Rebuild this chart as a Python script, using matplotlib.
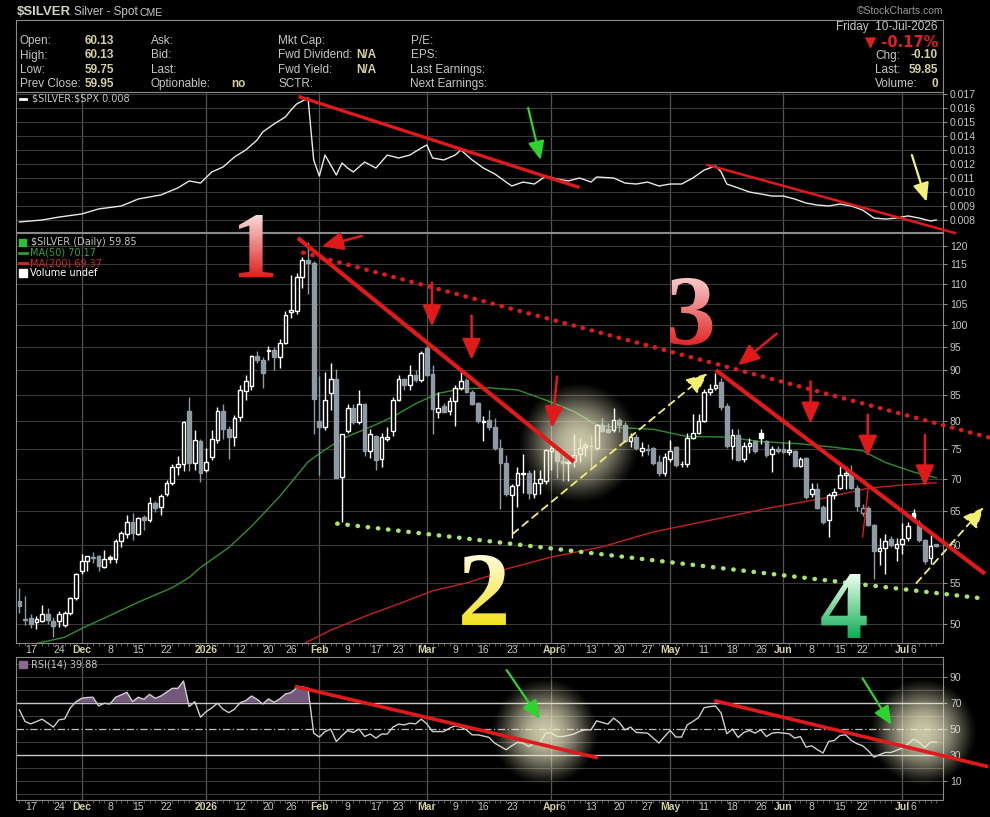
import numpy as np
import pandas as pd
import matplotlib
matplotlib.use('Agg')
import matplotlib.pyplot as plt
from matplotlib.patches import Rectangle, PathPatch
from matplotlib.textpath import TextPath
from matplotlib.font_manager import FontProperties
from matplotlib.transforms import Affine2D
from matplotlib.ticker import FixedLocator

plt.rcParams['font.family'] = ['Liberation Sans', 'DejaVu Sans']

# ---- trading calendar ----
holidays = ['2025-11-27', '2025-12-25', '2026-01-01', '2026-01-19', '2026-02-16',
            '2026-04-03', '2026-05-25', '2026-06-19', '2026-07-03']
dates = pd.bdate_range('2025-11-13', '2026-07-10', freq='C', holidays=holidays)

# ---- $SILVER daily candles ----
opens = [52.7, 50.6, 50.7, 50.3, 50.4, 51.2, 50.4, 50.4, 49.9, 51.3,
         53.1, 56.6, 57.9, 58.3, 58.5, 57.1, 58.4, 58.1, 60.6, 61.6,
         63.4, 61.6, 64.0, 63.6, 66.2, 65.6, 67.5, 69.3, 71.9, 72.4,
         81.9, 72.6, 76.4, 71.5, 73.6, 76.6, 81.9, 78.6, 77.2, 80.7,
         85.7, 86.7, 93.1, 92.1, 94.1, 94.3, 92.8, 95.9, 103.1, 103.3,
         111.8, 116.2, 115.4, 80.0, 78.9, 85.3, 88.2, 70.3, 78.2, 82.5,
         79.8, 83.3, 74.7, 77.3, 73.2, 76.8, 78.2, 84.0, 88.1, 86.9,
         89.0, 88.0, 94.8, 89.2, 81.8, 82.8, 81.9, 83.9, 86.4, 87.9,
         85.6, 83.4, 79.8, 80.2, 78.9, 75.1, 72.6, 67.4, 69.0, 70.8,
         70.9, 67.6, 69.3, 69.7, 74.6, 74.6, 72.9, 72.7, 72.9, 74.2,
         75.3, 75.5, 75.1, 79.3, 78.6, 78.3, 80.3, 79.2, 76.4, 77.2,
         74.6, 75.0, 75.2, 72.8, 71.0, 73.2, 75.3, 72.4, 72.4, 77.0,
         77.9, 80.1, 85.6, 86.3, 87.6, 82.8, 75.6, 77.4, 73.3, 75.5,
         76.4, 77.9, 76.4, 74.2, 75.0, 75.0, 74.4, 74.6, 72.1, 73.5,
         67.5, 68.4, 65.6, 63.6, 67.4, 68.5, 70.6, 70.7, 68.5, 64.6,
         65.4, 62.9, 59.2, 59.6, 60.9, 59.7, 60.2, 61.0, 64.6, 63.2,
         60.7, 58.3, 60.13]
highs = [54.4, 53.4, 51.2, 51.0, 52.3, 51.9, 50.8, 51.5, 51.6, 53.3,
         56.3, 58.8, 58.6, 59.1, 58.7, 59.3, 58.7, 60.9, 62.0, 64.3,
         64.6, 64.0, 64.4, 67.1, 66.5, 67.6, 69.8, 72.4, 73.8, 80.1,
         84.5, 78.4, 76.8, 75.1, 78.4, 82.6, 83.3, 79.1, 81.1, 86.9,
         89.0, 93.3, 94.0, 92.9, 95.1, 95.0, 96.7, 103.2, 112.2, 112.8,
         117.1, 121.0, 116.0, 88.9, 89.7, 91.6, 90.3, 77.7, 83.2, 83.2,
         85.9, 83.5, 78.6, 77.5, 77.9, 78.9, 84.6, 89.1, 88.3, 91.0,
         90.0, 94.1, 95.2, 91.0, 85.6, 83.5, 84.6, 86.9, 89.7, 88.3,
         86.0, 83.6, 81.0, 82.0, 80.5, 76.8, 73.9, 69.2, 72.0, 74.1,
         71.4, 71.4, 71.5, 75.0, 76.5, 75.2, 74.5, 74.2, 77.7, 76.9,
         76.2, 77.4, 79.5, 80.5, 79.6, 82.4, 80.5, 79.9, 77.8, 77.6,
         76.3, 75.9, 75.4, 73.9, 74.3, 76.5, 75.6, 73.0, 77.9, 81.4,
         81.3, 86.2, 87.2, 89.5, 88.5, 83.5, 78.6, 78.5, 76.2, 76.9,
         76.6, 78.5, 76.6, 75.6, 75.6, 76.3, 76.6, 74.9, 73.6, 73.6,
         69.3, 69.3, 65.9, 67.7, 68.6, 72.1, 72.1, 72.3, 69.0, 66.0,
         65.7, 63.1, 61.0, 61.6, 61.3, 61.1, 63.2, 63.3, 65.2, 63.6,
         60.9, 61.5, 60.13]
lows = [51.3, 49.9, 49.6, 49.4, 50.2, 50.0, 48.5, 49.7, 49.7, 51.1,
        52.9, 56.1, 56.6, 57.6, 56.6, 56.9, 57.6, 57.6, 59.8, 61.1,
        60.8, 61.5, 62.2, 63.4, 64.8, 64.4, 67.2, 69.0, 70.6, 71.2,
        71.2, 71.5, 69.5, 71.1, 73.1, 76.0, 76.8, 73.3, 75.5, 80.1,
        84.1, 86.0, 91.5, 86.3, 92.1, 90.0, 90.5, 95.6, 101.5, 102.5,
        109.0, 107.5, 77.6, 70.6, 78.4, 82.1, 70.1, 63.3, 77.8, 79.5,
        79.4, 73.8, 73.4, 71.4, 71.9, 76.4, 77.3, 83.8, 86.0, 86.0,
        87.6, 87.6, 88.9, 77.6, 80.6, 81.5, 81.1, 79.1, 86.0, 85.3,
        83.0, 79.7, 76.4, 78.4, 74.8, 65.2, 67.2, 61.0, 65.6, 67.8,
        66.8, 67.0, 67.6, 69.1, 71.4, 70.1, 69.6, 69.6, 71.9, 72.7,
        73.8, 71.9, 74.8, 78.0, 77.9, 78.0, 78.0, 76.2, 75.4, 74.8,
        73.8, 74.0, 72.2, 70.5, 70.5, 72.7, 72.0, 72.0, 72.0, 76.8,
        77.7, 79.9, 85.0, 86.0, 82.0, 75.2, 73.3, 72.9, 72.7, 74.3,
        74.3, 75.8, 73.7, 71.1, 74.3, 74.3, 74.0, 71.9, 71.9, 66.8,
        67.1, 65.2, 63.0, 61.2, 66.8, 68.4, 68.4, 68.3, 65.0, 64.2,
        62.7, 55.5, 57.3, 56.1, 59.8, 57.9, 58.8, 60.6, 63.4, 60.4,
        57.5, 57.4, 59.75]
closes = [52.1, 50.5, 50.0, 50.6, 51.2, 50.5, 49.8, 51.2, 51.3, 53.1,
          56.1, 57.9, 58.5, 58.4, 57.2, 58.1, 58.1, 60.6, 61.7, 63.4,
          61.7, 63.9, 63.6, 66.2, 65.4, 67.2, 69.4, 71.9, 72.4, 79.9,
          72.6, 76.5, 70.9, 72.7, 76.7, 81.9, 78.6, 77.1, 80.6, 85.9,
          87.7, 93.0, 92.1, 89.4, 94.4, 92.8, 95.9, 102.3, 103.4, 111.8,
          116.2, 115.4, 84.3, 78.9, 84.0, 88.1, 70.2, 77.6, 82.5, 79.8,
          83.3, 74.7, 77.6, 73.1, 77.2, 77.2, 84.0, 88.1, 86.9, 89.0,
          88.0, 93.6, 89.0, 82.2, 82.5, 81.8, 83.9, 86.4, 87.7, 85.6,
          83.3, 80.0, 80.1, 78.9, 75.1, 72.6, 67.6, 68.9, 70.9, 71.0,
          67.8, 69.3, 69.9, 74.9, 75.2, 72.9, 72.6, 72.6, 74.0, 75.1,
          75.7, 75.6, 79.3, 78.2, 78.0, 80.3, 79.3, 76.4, 77.2, 75.2,
          75.2, 74.8, 72.6, 71.0, 73.6, 74.7, 72.3, 72.5, 76.9, 77.9,
          80.1, 85.6, 86.2, 86.9, 82.7, 75.5, 77.4, 73.1, 75.5, 76.0,
          74.7, 76.9, 74.0, 75.0, 74.6, 74.5, 74.8, 72.1, 73.3, 67.1,
          68.4, 65.4, 63.3, 67.4, 67.9, 70.6, 71.0, 68.6, 65.7, 65.4,
          62.9, 59.2, 59.6, 60.6, 60.0, 60.2, 60.9, 62.8, 63.6, 60.7,
          57.9, 59.95, 59.85]

# moving averages (day index, value)
ma50_day = [3, 8, 11, 16, 21, 27, 30, 32, 37, 41, 46, 51, 53, 57, 62, 66, 70, 74,
            78, 83, 88, 93, 98, 102, 106, 112, 118, 125, 131, 138, 144, 149, 153, 158, 162]
ma50_val = [47.8, 48.5, 49.5, 51.0, 52.6, 54.4, 55.7, 57.0, 59.7, 62.7, 67.2, 72.8,
            74.2, 76.8, 78.9, 80.8, 83.3, 85.3, 86.2, 86.4, 86.0, 84.0, 81.8, 79.3,
            78.8, 78.5, 77.2, 77.1, 76.3, 75.9, 75.3, 74.7, 72.7, 71.1, 70.17]
ma200_day = [50, 55, 61, 67, 73, 79, 83, 86, 94, 103, 112, 118, 125, 133, 142, 150, 156, 162]
ma200_val = [47.7, 49.3, 50.9, 52.4, 54.0, 55.0, 55.9, 56.8, 58.4, 59.8, 61.9, 62.9,
             64.1, 65.5, 66.9, 68.5, 69.0, 69.37]

# RSI(14), one value per session
rsi = [64.5, 55.6, 53.8, 55.5, 57.4, 54.5, 51.3, 56.9, 57.6, 66.0,
       70.8, 73.4, 74.0, 74.2, 67.5, 69.6, 69.0, 74.2, 76.0, 78.0,
       70.8, 74.2, 72.6, 76.4, 73.4, 75.1, 78.0, 81.0, 81.0, 86.6,
       67.0, 70.8, 58.9, 63.2, 66.0, 69.6, 65.0, 62.4, 65.0, 70.0,
       71.6, 75.1, 72.6, 69.0, 72.9, 70.3, 72.9, 76.7, 77.7, 81.5,
       82.2, 81.0, 46.7, 43.7, 47.9, 49.8, 40.3, 44.7, 48.7, 47.2,
       49.8, 44.1, 46.0, 42.9, 46.0, 46.0, 51.3, 53.6, 53.0, 54.3,
       53.8, 57.4, 53.8, 47.9, 47.9, 47.9, 50.5, 52.3, 51.3, 49.2,
       45.4, 45.4, 44.5, 43.4, 39.0, 36.5, 34.0, 37.0, 39.6, 39.1,
       36.5, 39.1, 39.6, 47.0, 46.7, 44.1, 44.1, 45.0, 46.0, 48.2,
       49.2, 49.2, 56.1, 54.8, 53.6, 58.2, 54.8, 49.2, 51.3, 47.2,
       47.0, 46.7, 42.9, 39.1, 44.1, 48.7, 43.7, 43.7, 53.0, 55.6,
       58.6, 66.2, 67.0, 67.5, 62.0, 46.2, 49.8, 43.4, 47.2, 48.7,
       46.7, 49.2, 44.1, 46.7, 47.2, 46.7, 46.2, 42.9, 44.1, 36.0,
       37.0, 34.0, 31.5, 40.3, 41.1, 44.9, 45.4, 41.1, 38.6, 37.0,
       33.2, 28.4, 30.2, 31.9, 31.9, 33.5, 35.3, 38.5, 42.2, 39.6,
       35.8, 39.9, 39.88]

# $SILVER:$SPX ratio (day index, value)
ratio_day = [0, 4, 7, 11, 14, 18, 21, 25, 28, 30, 32, 34, 36, 38, 40, 42, 43, 45, 47, 48,
             49, 50, 51, 52, 53, 54, 55, 56, 57, 58, 59, 61, 63, 65, 67, 69, 71, 72, 73, 75,
             77, 78, 80, 82, 84, 86, 87, 89, 91, 93, 95, 97, 99, 101, 102, 105, 107, 109, 111, 113,
             115, 117, 119, 121, 123, 124, 125, 127, 129, 131, 133, 135, 137, 139, 141, 143, 145, 147, 149, 151,
             153, 155, 157, 159, 161, 162]
ratio_val = [0.00786, 0.00800, 0.00821, 0.00843, 0.00879, 0.00900, 0.00950, 0.00979, 0.01029, 0.01079,
             0.01064, 0.01143, 0.01179, 0.01250, 0.01300, 0.01371, 0.01429, 0.01486, 0.01536, 0.01586,
             0.01629, 0.01650, 0.01671, 0.01229, 0.01114, 0.01264, 0.01193, 0.01121, 0.01207, 0.01171,
             0.01143, 0.01214, 0.01171, 0.01264, 0.01243, 0.01264, 0.01314, 0.01336, 0.01243, 0.01229,
             0.01264, 0.01300, 0.01229, 0.01171, 0.01129, 0.01071, 0.01043, 0.01071, 0.01057, 0.01114,
             0.01093, 0.01079, 0.01100, 0.01071, 0.01107, 0.01100, 0.01064, 0.01057, 0.01071, 0.01043,
             0.01057, 0.01057, 0.01100, 0.01157, 0.01186, 0.01143, 0.01057, 0.01029, 0.01000, 0.00986,
             0.00971, 0.00971, 0.00950, 0.00921, 0.00907, 0.00900, 0.00914, 0.00900, 0.00871, 0.00814,
             0.00807, 0.00814, 0.00829, 0.00814, 0.00793, 0.00800]

# date axis labels
tick_dates = ['2025-11-17', '2025-11-24', '2025-12-01', '2025-12-08', '2025-12-15', '2025-12-22',
              '2026-01-02', '2026-01-12', '2026-01-20', '2026-01-26', '2026-02-02', '2026-02-09',
              '2026-02-17', '2026-02-23', '2026-03-02', '2026-03-09', '2026-03-16', '2026-03-23',
              '2026-04-01', '2026-04-06', '2026-04-13', '2026-04-20', '2026-04-27', '2026-05-01',
              '2026-05-11', '2026-05-18', '2026-05-26', '2026-06-01', '2026-06-08', '2026-06-15',
              '2026-06-22', '2026-07-01', '2026-07-06']
tick_text = ['17', '24', 'Dec', '8', '15', '22', '2026', '12', '20', '26', 'Feb', '9', '17', '23',
             'Mar', '9', '16', '23', 'Apr', '6', '13', '20', '27', 'May', '11', '18', '26', 'Jun',
             '8', '15', '22', 'Jul', '6']
month_starts = ['2025-12-01', '2026-01-02', '2026-02-02', '2026-03-02', '2026-04-01',
                '2026-05-01', '2026-06-01', '2026-07-01']

n = len(dates)
day = lambda d: dates.get_loc(pd.Timestamp(d))
tick_pos = [day(d) for d in tick_dates]
month_pos = [day(d) for d in month_starts]

# ---- figure layout (pixel based) ----
W, H = 990, 817
fig = plt.figure(figsize=(W / 100, H / 100), dpi=100, facecolor='black')
LEFT, RIGHT = 16, 943
GRID = '#3a3a3a'
VGRID = '#555555'
SPINE = '#8a8a8a'
LBL = '#c6c6c6'
KHAKI = '#d4d0a2'


def panel(top, bottom):
    ax = fig.add_axes([LEFT / W, 1 - bottom / H, (RIGHT - LEFT) / W, (bottom - top) / H])
    ax.set_facecolor('black')
    for s in ax.spines.values():
        s.set_color(SPINE)
    ax.set_xlim(-0.6, 163.2)
    ax.yaxis.tick_right()
    ax.tick_params(axis='y', colors=SPINE, labelcolor=LBL, labelsize=7.5, length=3, pad=2)
    ax.tick_params(axis='x', which='both', colors=SPINE)
    for m in month_pos:
        ax.axvline(m, color=VGRID, lw=0.9, zorder=1)
    return ax


def date_axis(ax):
    ax.set_xticks(tick_pos)
    ax.set_xticklabels(tick_text)
    ax.tick_params(axis='x', length=0, labelsize=7.5, pad=1.5, labelcolor=LBL)
    ax.xaxis.set_minor_locator(FixedLocator(range(n)))
    ax.tick_params(axis='x', which='minor', length=2, color='#6a6a6a')
    for t in ax.get_xticklabels():
        if not t.get_text().isdigit() or t.get_text() == '2026':
            t.set_fontweight('bold')
            t.set_color(KHAKI)


def T(x, y, s, ha='left', size=8.5, color=LBL, weight='normal', **kw):
    fig.text(x / W, 1 - y / H, s, ha=ha, va='center', fontsize=size, color=color,
             fontweight=weight, **kw)


# header box
hdr = fig.add_axes([LEFT / W, 1 - 92 / H, (RIGHT - LEFT) / W, 72 / H])
hdr.set_facecolor('black')
hdr.set_xticks([])
hdr.set_yticks([])
for s in hdr.spines.values():
    s.set_color(SPINE)

ax_top = panel(92, 232)
ax_px = panel(233, 643)
ax_rsi = panel(657, 800)

# ---- ratio panel ----
ax_top.set_ylim(0.007143, 0.017143)
ax_top.set_yticks(np.arange(0.008, 0.0171, 0.001))
ax_top.set_yticklabels([f'{v:.3f}' for v in np.arange(0.008, 0.0171, 0.001)])
ax_top.grid(axis='y', color=GRID, lw=0.8)
ax_top.set_xticks([])
ax_top.tick_params(axis='x', which='minor', length=0)
ax_top.plot(ratio_day, ratio_val, color='#e8e8e8', lw=1.0, zorder=3)

# ---- price panel ----
ax_px.set_yscale('log')
ax_px.set_ylim(47.86, 123.67)
pticks = list(range(50, 121, 5))
ax_px.yaxis.set_major_locator(FixedLocator(pticks))
ax_px.yaxis.set_minor_locator(FixedLocator([]))
ax_px.set_yticklabels([str(v) for v in pticks])
ax_px.grid(axis='y', color=GRID, lw=0.8)
date_axis(ax_px)

UP, DOWN = '#ffffff', '#8e9aa4'
for i in range(n):
    prev = closes[i - 1] if i else opens[i]
    col = UP if closes[i] >= prev else DOWN
    ax_px.vlines(i, lows[i], highs[i], color=col, lw=1.0, zorder=3)
    lo, hi = sorted((opens[i], closes[i]))
    hollow = closes[i] >= opens[i]
    ax_px.add_patch(Rectangle((i - 0.33, lo), 0.66, max(hi - lo, 0.06),
                              facecolor='black' if hollow else col, edgecolor=col,
                              lw=1.0, zorder=4))

ax_px.plot(ma50_day, ma50_val, color='#2f8f2f', lw=1.0, zorder=2)
ax_px.plot(ma200_day, ma200_val, color='#c42222', lw=1.0, zorder=2)

# ---- RSI panel ----
ax_rsi.set_ylim(-4.5, 105)
ax_rsi.set_yticks([10, 30, 50, 70, 90])
for lv in range(0, 101, 10):
    if lv not in (30, 50, 70):
        ax_rsi.axhline(lv, color=GRID, lw=0.8, zorder=1)
ax_rsi.axhline(70, color='#c8c8c8', lw=1.0, zorder=2)
ax_rsi.axhline(30, color='#c8c8c8', lw=1.0, zorder=2)
ax_rsi.axhline(50, color='#bdbdbd', lw=0.9, ls=(0, (6, 2, 1, 2)), zorder=2)
rsi_a = np.array(rsi)
xs = np.arange(n)
ax_rsi.fill_between(xs, 70, rsi_a, where=rsi_a > 70, interpolate=True, color='#74597c', lw=0, zorder=2)
ax_rsi.fill_between(xs, 30, rsi_a, where=rsi_a < 30, interpolate=True, color='#74597c', lw=0, zorder=2)
ax_rsi.plot(xs, rsi_a, color='#cfcfcf', lw=1.0, zorder=3)
date_axis(ax_rsi)

# ---- overlay for hand-drawn markup ----
ov = fig.add_axes([0, 0, 1, 1], zorder=10)
ov.set_axis_off()
ov.patch.set_alpha(0)


def glow(ax, xd, yd, r):
    px, py = ax.transData.transform((xd, yd))
    cy = H - py
    g = np.linspace(-1, 1, 181)
    d = np.hypot(*np.meshgrid(g, g))
    img = np.zeros((181, 181, 4))
    img[..., :3] = (0.93, 0.92, 0.78)
    img[..., 3] = np.clip(1 - d ** 2, 0, 1) ** 1.5 * 0.85
    ov.imshow(img, extent=(px - r, px + r, cy + r, cy - r), interpolation='bilinear', zorder=1)


def seg(ax, p0, p1, **kw):
    ov.plot([p0[0], p1[0]], [p0[1], p1[1]], transform=ax.transData, zorder=4, **kw)


def arrow(ax, p0, p1, color, lw=1.6, scale=16, ls='-'):
    ov.annotate('', xy=p1, xycoords=ax.transData, xytext=p0, textcoords=ax.transData,
                arrowprops=dict(arrowstyle='-|>,head_length=0.8,head_width=0.35', color=color,
                                lw=lw, mutation_scale=scale, linestyle=ls,
                                shrinkA=0, shrinkB=0), zorder=5)


def numeral(s, cx, bottom, height, c_top, c_bot):
    tp = TextPath((0, 0), s, size=100, prop=FontProperties(family='Liberation Serif', weight='bold'))
    bb = tp.get_extents()
    k = height / bb.height
    tr = Affine2D().translate(-(bb.x0 + bb.x1) / 2, -bb.y0).scale(k, -k).translate(cx, bottom)
    patch = PathPatch(tr.transform_path(tp), fc='none', ec='none', transform=ov.transData)
    ov.add_patch(patch)
    w = bb.width * k
    t = np.linspace(0, 1, 200)[:, None, None]
    img = (1 - t) * np.array(c_top) + t * np.array(c_bot)
    im = ov.imshow(img, extent=(cx - w / 2, cx + w / 2, bottom, bottom - height),
                   aspect='auto', interpolation='bilinear', zorder=6)
    im.set_clip_path(patch)


RED = '#e01a1a'
# glows
glow(ax_px, 98.9, 76.05, 62)
glow(ax_rsi, 92.9, 47.7, 55)
glow(ax_rsi, 159.6, 47.7, 55)

# ratio panel markup
seg(ax_top, (49.6, 0.016786), (98.7, 0.010357), color=RED, lw=2.4, clip_on=False)
seg(ax_top, (121.6, 0.011929), (165.3, 0.007071), color=RED, lw=1.8, clip_on=False)
arrow(ax_top, (89.9, 0.016), (92.1, 0.012286), '#2ed42e', lw=1.6, scale=14)
arrow(ax_top, (157.7, 0.012643), (160.3, 0.009307), '#f2f07a', lw=1.6, scale=14)

# price panel markup
seg(ax_px, (50.15, 118.17), (171.5, 76.98), color=RED, lw=3.2, ls=(0, (0.1, 2.0)),
    dash_capstyle='round', clip_on=False)
seg(ax_px, (56.16, 63.10), (169.4, 53.13), color='#a6e46e', lw=3.2, ls=(0, (0.1, 2.2)),
    dash_capstyle='round', clip_on=False)
seg(ax_px, (49.21, 122.25), (98.0, 72.83), color=RED, lw=3.0, solid_capstyle='butt', clip_on=False)
seg(ax_px, (123.07, 90.03), (170.6, 56.19), color=RED, lw=3.0, solid_capstyle='butt', clip_on=False)
seg(ax_px, (150.0, 68.68), (149.0, 61.19), color=RED, lw=1.0, clip_on=False)
arrow(ax_px, (87.15, 61.61), (121.6, 89.37), '#f4f070', lw=1.3, scale=16, ls=(0, (4, 3)))
arrow(ax_px, (158.5, 54.98), (170.4, 65.54), '#f4f070', lw=1.3, scale=16, ls=(0, (4, 3)))
for p0, p1 in [((60.5, 122.85), (53.46, 119.86)), ((72.9, 110.25), (72.9, 99.61)),
               ((79.9, 102.16), (79.9, 92.19)), ((95.0, 88.7), (94.1, 78.8)),
               ((133.8, 97.95), (127.0, 91.04)), ((139.8, 87.71), (139.8, 79.54)),
               ((149.9, 81.22), (149.9, 73.66)), ((160.0, 77.5), (160.0, 68.77))]:
    arrow(ax_px, p0, p1, RED, lw=1.8, scale=16)

# RSI panel markup
seg(ax_rsi, (49.0, 82.2), (101.9, 28.1), color=RED, lw=2.6, clip_on=False)
seg(ax_rsi, (123.1, 71.3), (170.9, 21.3), color=RED, lw=2.6, clip_on=False)
arrow(ax_rsi, (86.1, 95.0), (92.0, 57.4), '#2ed42e', lw=1.6, scale=14)
arrow(ax_rsi, (149.0, 88.6), (154.1, 53.0), '#2ed42e', lw=1.6, scale=14)

# wave numbers
numeral('1', 256, 277, 62, (0.98, 0.86, 0.86), (0.88, 0.12, 0.12))
numeral('2', 484, 625, 70, (1.0, 0.99, 0.85), (0.95, 0.88, 0.12))
numeral('3', 691, 345, 67, (0.98, 0.80, 0.80), (0.88, 0.15, 0.15))
numeral('4', 844, 638, 64, (0.94, 1.0, 0.95), (0.05, 0.68, 0.32))

ov.set_xlim(0, W)
ov.set_ylim(H, 0)

# ---- header texts ----
T(17, 12, '\\$SILVER', size=9.5, weight='bold', color='#d2d0c2')
T(74, 12, 'Silver - Spot', size=8.5)
T(139, 12.5, 'CME', size=7.5)
T(943, 11, '\u00a9StockCharts.com', ha='right', size=7.5, color='#9a9a9a')
rows = [41, 55.5, 70, 84]
for y, lab, val in zip(rows, ['Open:', 'High:', 'Low:', 'Prev Close:'],
                       ['60.13', '60.13', '59.75', '59.95']):
    T(20, y, lab)
    T(85, y, val, weight='bold', color=KHAKI)
for y, lab in zip(rows, ['Ask:', 'Bid:', 'Last:', 'Optionable:']):
    T(150.5, y, lab)
T(231, 84, 'no', weight='bold', color=KHAKI)
for y, lab in zip(rows, ['Mkt Cap:', 'Fwd Dividend:', 'Fwd Yield:', 'SCTR:']):
    T(278.5, y, lab)
T(376, 55.5, 'N/A', ha='right', weight='bold', color=KHAKI)
T(376, 70, 'N/A', ha='right', weight='bold', color=KHAKI)
for y, lab in zip(rows, ['P/E:', 'EPS:', 'Last Earnings:', 'Next Earnings:']):
    T(410.5, y, lab)
T(938, 27, 'Friday  10-Jul-2026', ha='right')
T(938, 41.5, '\u25bc -0.17%', ha='right', size=10.5, weight='bold', color='#e0201c',
  family=['DejaVu Sans'])
T(875, 55.5, 'Chg:')
T(938, 55.5, '-0.10', ha='right', weight='bold', color=KHAKI)
T(875, 70, 'Last:')
T(938, 70, '59.85', ha='right', weight='bold', color=KHAKI)
T(875, 84, 'Volume:')
T(938, 84, '0', ha='right', weight='bold', color=KHAKI)

# panel legends
LG = dict(size=7, family=['DejaVu Sans'])
fig.add_artist(plt.Line2D([20 / W, 26 / W], [1 - 98.5 / H] * 2, color='white', lw=2))
T(32, 98.5, '\\$SILVER:\\$SPX 0.008', **LG)
T(31, 242, '\\$SILVER (Daily) 59.85', **LG)
fig.add_artist(Rectangle((19 / W, 1 - 246 / H), 7 / W, 7 / H, color='#2fbf3f'))
fig.add_artist(plt.Line2D([19 / W, 27 / W], [1 - 252.5 / H] * 2, color='#2f9f2f', lw=2))
T(29.5, 252.5, 'MA(50) 70.17', color='#35a035', **LG)
fig.add_artist(plt.Line2D([19 / W, 27 / W], [1 - 263 / H] * 2, color='#d02828', lw=2))
T(29.5, 263, 'MA(200) 69.37', color='#d02828', **LG)
fig.add_artist(Rectangle((19 / W, 1 - 277 / H), 8 / W, 8 / H, color='white'))
T(29.5, 273.5, 'Volume undef', color='white', **LG)
fig.add_artist(Rectangle((19 / W, 1 - 668 / H), 8 / W, 7 / H, color='#8a6a92'))
T(31, 664.5, 'RSI(14) 39.88', **LG)

fig.savefig('out.png', dpi=100, facecolor='black')
